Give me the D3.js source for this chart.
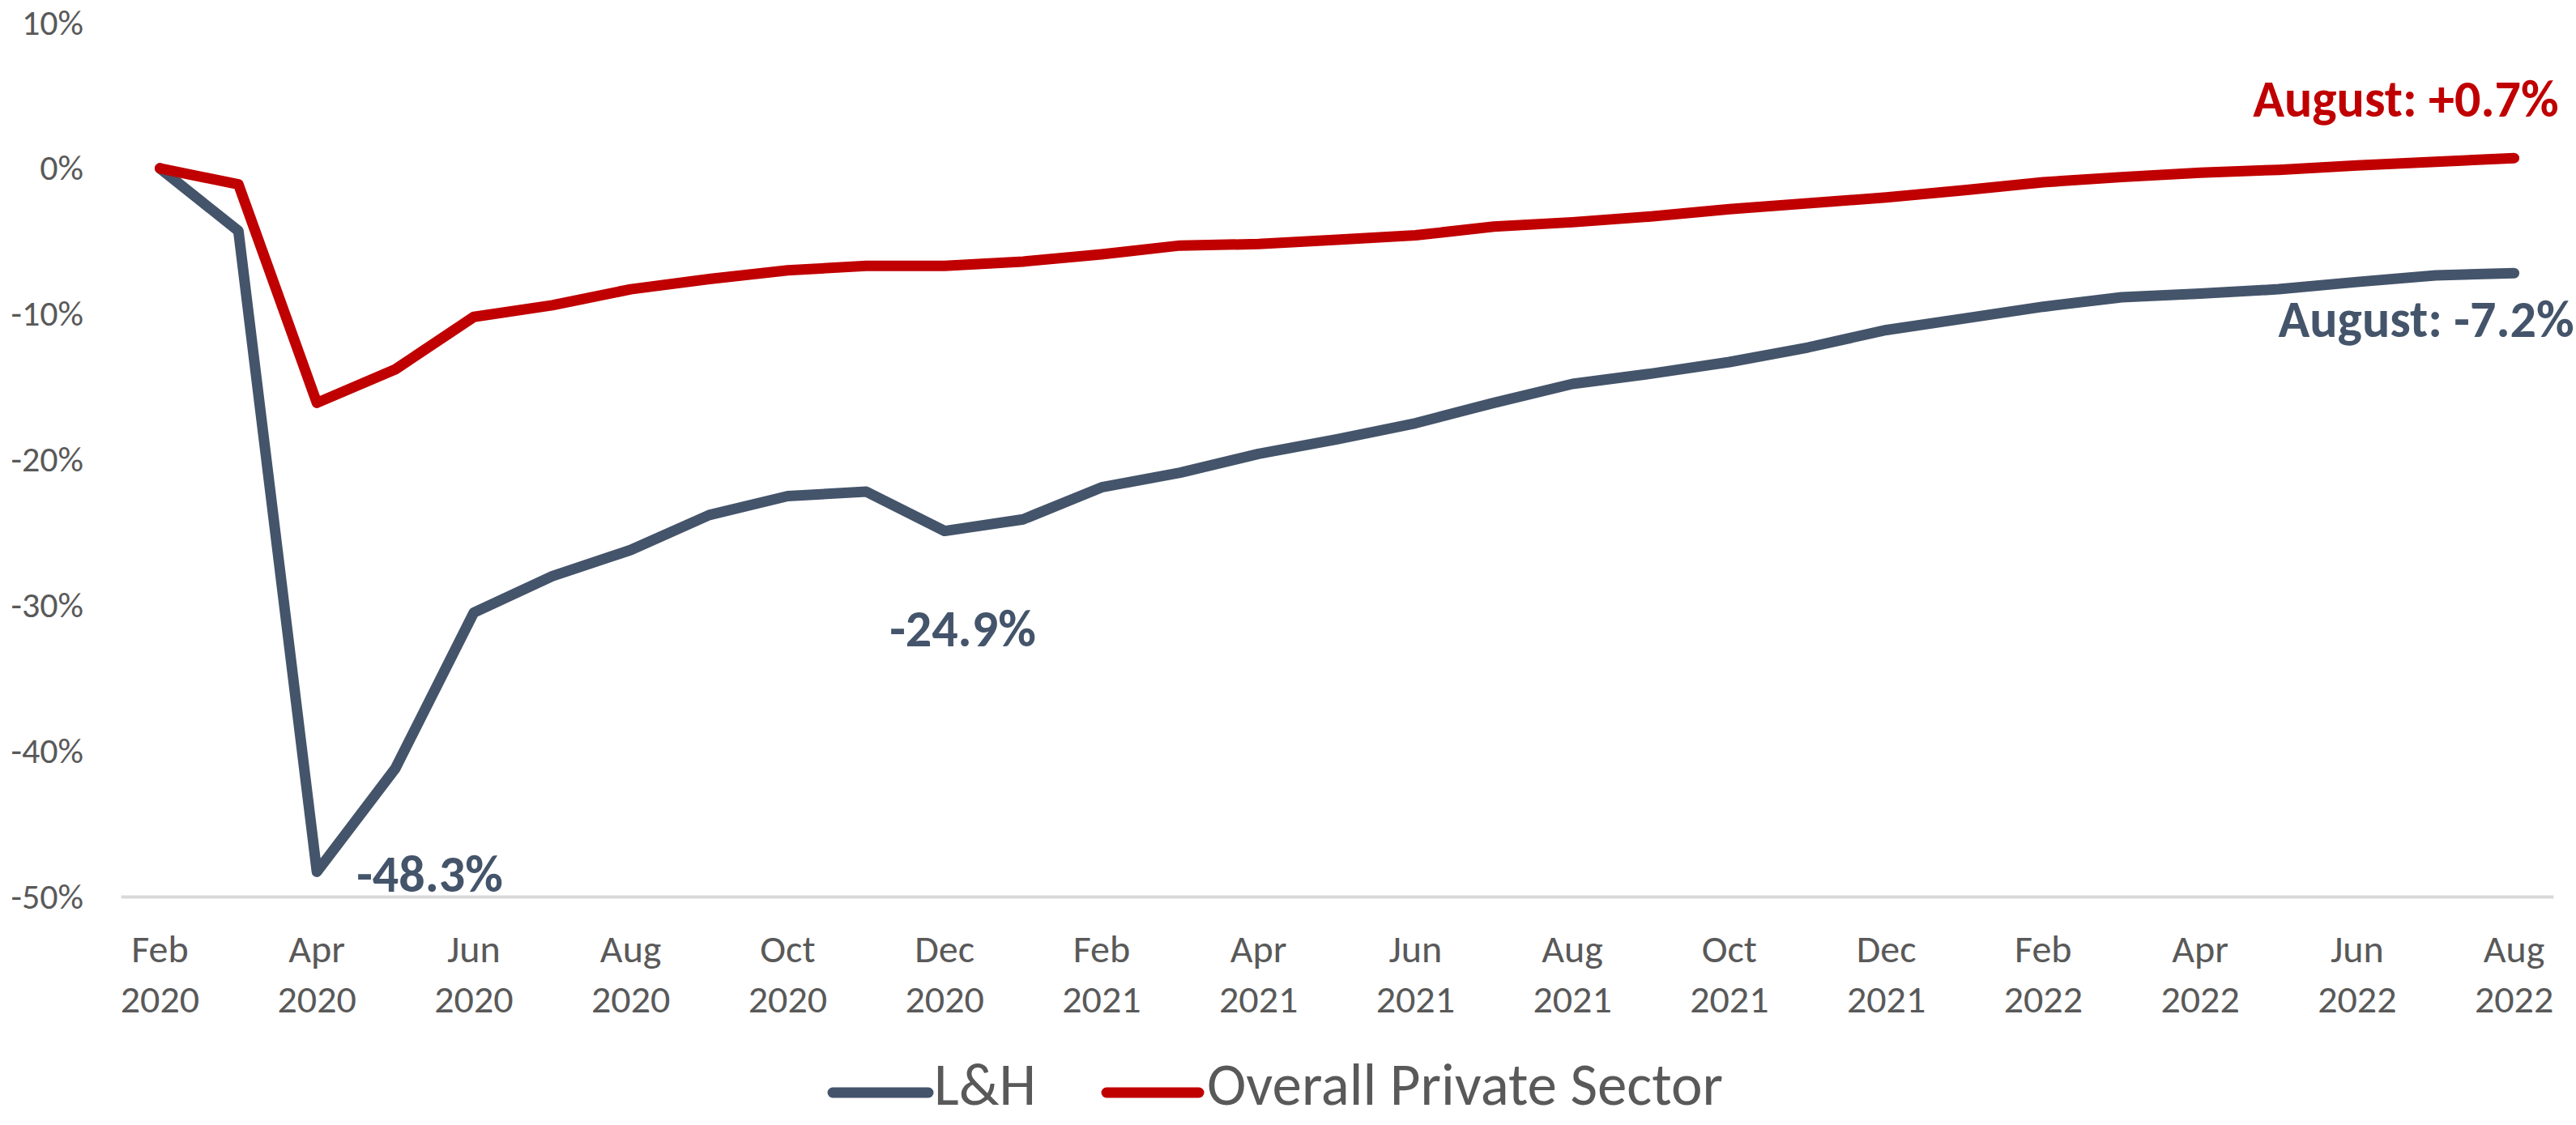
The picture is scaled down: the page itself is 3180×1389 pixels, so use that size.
<!DOCTYPE html>
<html>
<head>
<meta charset="utf-8">
<script src="https://cdn.jsdelivr.net/npm/d3@7"></script>
<style>
  html, body { margin: 0; padding: 0; background: #fff; }
  svg { display: block; font-family: Carlito, Calibri, Lato, "Open Sans", sans-serif; }
</style>
</head>
<body>
<div id="chart"></div>
<script>
// Months on the x axis, Feb 2020 .. Aug 2022
const months = ['Feb', 'Mar', 'Apr', 'May', 'Jun', 'Jul', 'Aug', 'Sep', 'Oct', 'Nov', 'Dec', 'Jan',
    'Feb', 'Mar', 'Apr', 'May', 'Jun', 'Jul', 'Aug', 'Sep', 'Oct', 'Nov', 'Dec', 'Jan',
    'Feb', 'Mar', 'Apr', 'May', 'Jun', 'Jul', 'Aug'];
const years = [2020, 2020, 2020, 2020, 2020, 2020, 2020, 2020, 2020, 2020, 2020, 2021,
    2021, 2021, 2021, 2021, 2021, 2021, 2021, 2021, 2021, 2021, 2021, 2022,
    2022, 2022, 2022, 2022, 2022, 2022, 2022];

// Employment change vs Feb 2020, percent
const lhValues = [0, -4.3, -48.3, -41.2, -30.5, -28.0, -26.2, -23.8, -22.5, -22.2, -24.9, -24.1,
    -21.9, -20.9, -19.6, -18.6, -17.5, -16.1, -14.8, -14.1, -13.3, -12.3, -11.1, -10.3,
    -9.5, -8.85, -8.6, -8.3, -7.8, -7.35, -7.2];
const privateValues = [0, -1.1, -16.1, -13.8, -10.2, -9.4, -8.3, -7.6, -7.0, -6.7, -6.7, -6.4,
    -5.9, -5.3, -5.2, -4.9, -4.6, -4.0, -3.7, -3.3, -2.8, -2.4, -2.0, -1.5,
    -0.95, -0.6, -0.3, -0.1, 0.2, 0.45, 0.7];

const yTicks = [10, 0, -10, -20, -30, -40, -50];
const seriesNames = ['L&H', 'Overall Private Sector'];
const seriesColors = ['#44546A', '#C00000'];

const width = 3180, height = 1389;
const textGray = '#595959';

const svg = d3.select('#chart').append('svg')
    .attr('width', width)
    .attr('height', height);

const labels = months.map((m, i) => m + ' ' + years[i]);

const x = d3.scaleBand()
    .domain(labels)
    .range([149, 3152]);
const xc = i => x(labels[i]) + x.bandwidth() / 2;

const y = d3.scaleLinear()
    .domain([-50, 10])
    .range([1107, 28]);

// Y axis labels only
const yAxis = svg.append('g')
    .attr('transform', 'translate(149,0)')
    .call(d3.axisLeft(y).tickValues(yTicks).tickSize(0).tickPadding(46).tickFormat(d => d + '%'));
yAxis.attr('font-family', null).attr('font-size', null);
yAxis.select('.domain').remove();
yAxis.selectAll('text')
    .style('font-size', '44px')
    .attr('fill', textGray);

// X axis along the -50% line
const xAxis = svg.append('g')
    .attr('transform', `translate(0,${y(-50)})`)
    .call(d3.axisBottom(x)
        .tickValues(labels.filter((d, i) => i % 2 === 0))
        .tickSize(0)
        .tickSizeOuter(0));
xAxis.attr('font-family', null).attr('font-size', null);
xAxis.select('.domain')
    .attr('stroke', '#D9D9D9')
    .attr('stroke-width', 4);
xAxis.selectAll('text').each(function(d) {
    const parts = d.split(' ');
    const t = d3.select(this)
        .text(null)
        .attr('y', 0)
        .attr('dy', null)
        .attr('fill', textGray)
        .style('font-size', '48px');
    t.append('tspan').attr('x', 0).attr('y', 81).text(parts[0]);
    t.append('tspan').attr('x', 0).attr('y', 143).text(parts[1]);
});

// Lines
const line = d3.line()
    .x((d, i) => xc(i))
    .y(d => y(d));

[lhValues, privateValues].forEach((vals, k) => {
    svg.append('path')
        .datum(vals)
        .attr('fill', 'none')
        .attr('stroke', seriesColors[k])
        .attr('stroke-width', 13)
        .attr('stroke-linejoin', 'round')
        .attr('stroke-linecap', 'round')
        .attr('d', line);
});

// Annotations
const last = labels.length - 1;
const notes = [
    { text: '-48.3%', x: xc(2) + 49, y: y(lhValues[2]) + 25, anchor: 'start', color: seriesColors[0] },
    { text: '-24.9%', x: xc(10) - 68, y: y(lhValues[10]) + 142, anchor: 'start', color: seriesColors[0] },
    { text: 'August: +0.7%', x: xc(last) + 55, y: y(privateValues[last]) - 51, anchor: 'end', color: seriesColors[1] },
    { text: 'August: -7.2%', x: xc(last) + 74, y: y(lhValues[last]) + 79, anchor: 'end', color: seriesColors[0] }
];
svg.append('g').selectAll('text')
    .data(notes)
    .enter().append('text')
    .attr('x', d => d.x)
    .attr('y', d => d.y)
    .attr('text-anchor', d => d.anchor)
    .attr('fill', d => d.color)
    .style('font-size', '64px')
    .style('font-weight', 'bold')
    .text(d => d.text);

// Legend
const legend = svg.append('g');
const legendItems = [
    { x1: 1028, x2: 1146, tx: 1153 },
    { x1: 1366, x2: 1480, tx: 1490 }
];
legendItems.forEach((it, k) => {
    legend.append('line')
        .attr('x1', it.x1).attr('x2', it.x2)
        .attr('y1', 1349).attr('y2', 1349)
        .attr('stroke', seriesColors[k])
        .attr('stroke-width', 13)
        .attr('stroke-linecap', 'round');
    legend.append('text')
        .attr('x', it.tx)
        .attr('y', 1364)
        .attr('fill', textGray)
        .style('font-size', '73px')
        .text(seriesNames[k]);
});
</script>
</body>
</html>
